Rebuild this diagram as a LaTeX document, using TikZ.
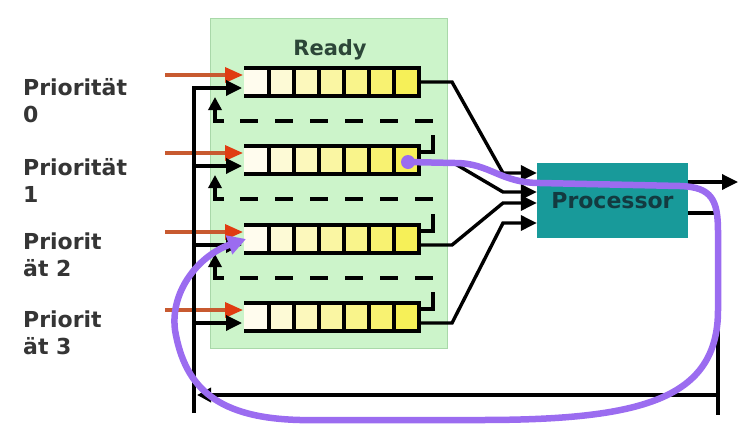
\documentclass[tikz,border=0pt]{standalone}
\usepackage{fontspec}
\setmainfont{DejaVu Sans}
\usetikzlibrary{arrows.meta}
\definecolor{readygreen}{HTML}{CCF4CA}
\definecolor{readyborder}{HTML}{A9D8A9}
\definecolor{proccol}{HTML}{189A9A}
\definecolor{proctext}{HTML}{133A40}
\definecolor{prioline}{HTML}{C85A30}
\definecolor{priohead}{HTML}{E03C12}
\definecolor{purp}{HTML}{9B6CF0}
\definecolor{cellA}{HTML}{FFFCEE}
\definecolor{cellB}{HTML}{F6F058}
\definecolor{labelgray}{HTML}{353535}
\definecolor{readytext}{HTML}{2C4638}
\begin{document}
\begin{tikzpicture}[x=1pt,y=-1pt,
  blk/.style={line width=3.4pt,black},
  blkarrow/.style={blk,-{Triangle[length=16pt,width=15pt]}},
  qline/.style={line width=3.2pt,black,line join=miter},
  queue/.style={rectangle,minimum width=175pt,minimum height=28pt,inner sep=0pt,outer sep=0pt},
  prioarrow/.style={line width=3.4pt,prioline,-{Triangle[length=18pt,width=15pt,fill=priohead,color=priohead]}},
  dashline/.style={blk,dash pattern=on 18pt off 17pt},
  purpline/.style={line width=6.5pt,purp,line cap=round,-{Triangle[length=18pt,width=19pt]}},
  prio/.style={anchor=north west,inner sep=0pt,align=left,text=labelgray,font=\fontsize{22}{27}\selectfont\bfseries},
]
\useasboundingbox (0,0) rectangle (746,434);
% ready area
\node[rectangle,draw=readyborder,fill=readygreen,line width=1pt,minimum width=237pt,minimum height=330pt,inner sep=0pt] (ready) at (328.5,183) {};
\node[text=readytext,font=\fontsize{21}{24}\selectfont\bfseries] (readylbl) at (330,50) {Ready};
% labels
\node[prio] (p0) at (23,78) {Priorität\\0};
\node[prio] (p1) at (23,158) {Priorität\\1};
\node[prio] (p2) at (23,233) {Priorit\\ät 2};
\node[prio] (p3) at (23,311) {Priorit\\ät 3};
% queues
\foreach \i/\t in {1/68,2/146,3/225,4/303} {
  \pgfmathsetmacro\cy{\t+14}
  \node[queue] (q\i) at (331.5,\cy) {};
  \foreach \c in {0,...,6} {
    \pgfmathtruncatemacro\p{\c*100/6}
    \fill[cellB!\p!cellA] ([xshift=\c*25pt]q\i.north west) rectangle ([xshift=\c*25pt+25pt]q\i.south west);
  }
  \draw[qline] (q\i.north west) -- (q\i.north east) -- (q\i.south east) -- (q\i.south west);
  \foreach \c in {1,...,6} {
    \draw[qline] ([xshift=\c*25pt]q\i.north west) -- ([xshift=\c*25pt]q\i.south west);
  }
  \coordinate (oin\i) at (165,\t+7);
  \draw[prioarrow] (oin\i) -- ([yshift=-7pt,xshift=-1pt]q\i.north west);
}
% upgrade paths (dashed) between queues
\foreach \i/\j in {1/2,2/3,3/4} {
  \draw[blk] ([yshift=-6pt]q\j.north east) -- ++(14,0) -- ++(0,-17);
  \draw[dashline] ([yshift=-25pt,xshift=-4pt]q\i.south west) -- ([yshift=-25pt,xshift=14pt]q\i.south east);
  \draw[blk,-{Triangle[length=13pt,width=13pt]}] ([yshift=-25pt,xshift=-20pt]q\i.south west) -- ([yshift=-25pt,xshift=-29pt]q\i.south west) -- ([yshift=-1pt,xshift=-29pt]q\i.south west);
}
% processor
\node[rectangle,fill=proccol,minimum width=151pt,minimum height=75pt,inner sep=0pt,text=proctext,font=\fontsize{22}{24}\selectfont\bfseries] (proc) at (612.5,200.5) {Processor};
% queue outputs to processor
\draw[blkarrow] (q1.east) -- (452,82) -- (503,173) -- ([yshift=27.5pt]proc.west);
\draw[blkarrow] ([yshift=-2pt]q2.east) -- (452,162) -- (503,192) -- ([yshift=8.5pt]proc.west);
\draw[blkarrow] ([yshift=-6pt]q3.east) -- (452,245) -- (503,203) -- ([yshift=-2.5pt]proc.west);
\draw[blkarrow] ([yshift=-6pt]q4.east) -- (452,323) -- (503,223) -- ([yshift=-22.5pt]proc.west);
% processor outputs
\coordinate (done) at (738,182);
\draw[blkarrow] ([yshift=18.5pt]proc.east) -- (done);
\coordinate (rbot) at (718,415);
\coordinate (rtop) at (718,213);
\coordinate (lbot) at (194,413);
\coordinate (ltop) at (194,88);
\coordinate (bend) at (718,395);
\coordinate (bst) at (197,395);
\draw[blk] ([yshift=-12.5pt]proc.east) -- (rtop) -- (rbot);
\draw[blk,-{Triangle[length=14pt,width=14pt]}] (bend) -- (bst);
% back into queues
\draw[blkarrow] (lbot) -- (ltop) -- ([yshift=-20pt,xshift=-2pt]q1.north west);
\foreach \i in {2,3,4} {
  \path ([yshift=-20pt,xshift=-2pt]q\i.north west) coordinate (qin\i);
  \draw[blkarrow] (ltop |- qin\i) -- (qin\i);
}
% purple path
\node[circle,fill=purp,minimum size=14pt,inner sep=0pt] (pdot) at (408,162) {};
\draw[purpline] (pdot.center) -- (455,163) .. controls (490,163) and (500,183) .. (540,183) -- (680,186) .. controls (712,187) and (718,200) .. (718,232) -- (718,310) .. controls (718,400) and (640,420) .. (480,420) -- (300,420) .. controls (220,418) and (185,390) .. (175,330) .. controls (170,290) and (200,255) .. ([xshift=2pt]q3.west);
\end{tikzpicture}
\end{document}
